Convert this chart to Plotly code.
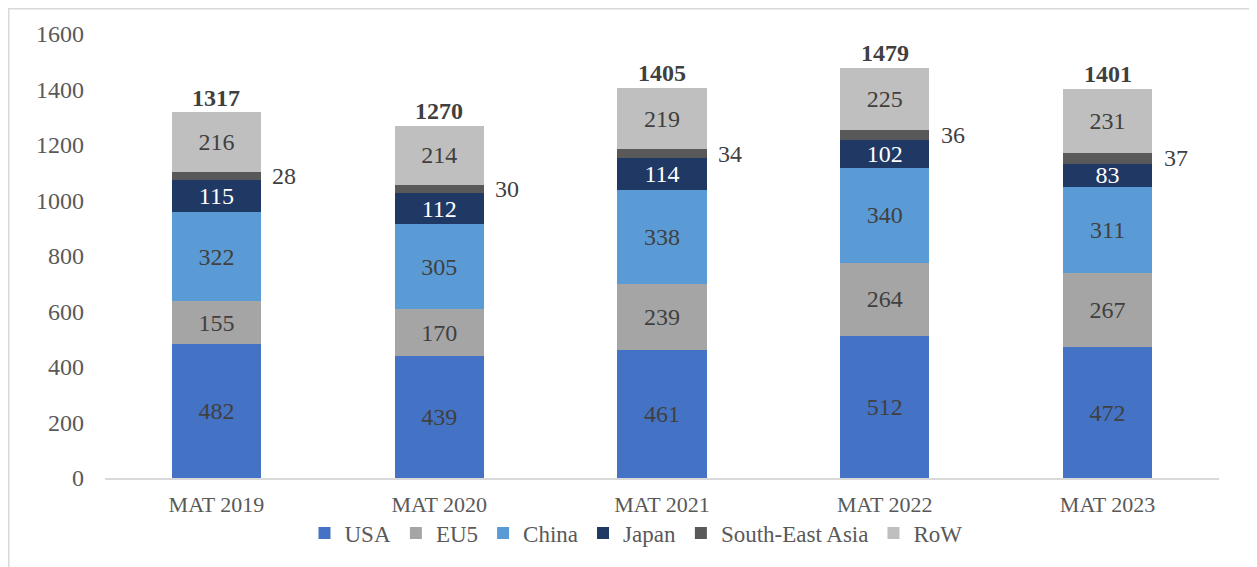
import plotly.graph_objects as go

categories = ["MAT 2019", "MAT 2020", "MAT 2021", "MAT 2022", "MAT 2023"]
usa = [482, 439, 461, 512, 472]
eu5 = [155, 170, 239, 264, 267]
china = [322, 305, 338, 340, 311]
japan = [115, 112, 114, 102, 83]
sea = [28, 30, 34, 36, 37]
row = [216, 214, 219, 225, 231]
totals = [1317, 1270, 1405, 1479, 1401]
y_ticks = [0, 200, 400, 600, 800, 1000, 1200, 1400, 1600]

FONT = "Liberation Serif"
TXT = "#404040"

series = [
    ("USA", usa, "#4472C4", TXT, True),
    ("EU5", eu5, "#A5A5A5", TXT, True),
    ("China", china, "#5B9BD5", TXT, True),
    ("Japan", japan, "#203864", "#FFFFFF", True),
    ("South-East Asia", sea, "#595959", TXT, False),
    ("RoW", row, "#BFBFBF", TXT, True),
]

fig = go.Figure()
for name, vals, color, tcolor, show_inside in series:
    fig.add_trace(go.Bar(
        name=name, x=categories, y=vals,
        marker=dict(color=color, line=dict(width=0)),
        text=[str(v) for v in vals] if show_inside else None,
        textposition="inside" if show_inside else "none",
        insidetextanchor="middle",
        constraintext="none",
        textangle=0,
        textfont=dict(family=FONT, size=24, color=tcolor),
        hoverinfo="skip",
    ))

# South-East Asia labels to the right of the bars, totals above
for i, c in enumerate(categories):
    base = usa[i] + eu5[i] + china[i] + japan[i]
    fig.add_annotation(x=c, y=base + sea[i] / 2, text=str(sea[i]),
                       showarrow=False, xanchor="left", yanchor="middle",
                       xshift=54, font=dict(family=FONT, size=24, color=TXT))
    fig.add_annotation(x=c, y=totals[i], text="<b>%d</b>" % totals[i],
                       showarrow=False, xanchor="center", yanchor="bottom",
                       yshift=0, font=dict(family=FONT, size=24, color=TXT))

# figure is drawn 8px in from the page corner (body margin)
W, H = 1249, 559
L, R, T, B = 97, 38, 26, 89
pw, ph = W - L - R, H - T - B
def px(x):
    return (x - L) / pw
def py(y):
    return (H - B - y) / ph
fig.add_shape(type="rect", xref="paper", yref="paper",
              x0=px(0.75), x1=px(1247), y0=py(575), y1=py(0.75),
              line=dict(color="#D9D9D9", width=1.5), fillcolor="rgba(0,0,0,0)", layer="below")

fig.update_layout(
    width=W, height=H,
    margin=dict(l=L, r=R, t=T, b=B),
    barmode="stack", bargap=0.6,
    paper_bgcolor="white", plot_bgcolor="white",
    font=dict(family=FONT, size=22, color="#595959"),
    showlegend=True,
    legend=dict(orientation="h", x=px(628), xanchor="center", y=py(525), yanchor="middle",
                font=dict(family=FONT, size=23, color="#595959"),
                traceorder="normal", itemwidth=30, bgcolor="rgba(0,0,0,0)"),
    xaxis=dict(showline=True, linecolor="#D9D9D9", linewidth=1.5, ticks="",
               showgrid=False, tickfont=dict(family=FONT, size=22, color="#595959"),
               ticklabelstandoff=6),
    yaxis=dict(range=[0, 1600], tickvals=y_ticks, showgrid=False, zeroline=False,
               showline=False, ticks="", ticklabelstandoff=20,
               tickfont=dict(family=FONT, size=24, color="#595959")),
)

fig.write_html("out.html")
